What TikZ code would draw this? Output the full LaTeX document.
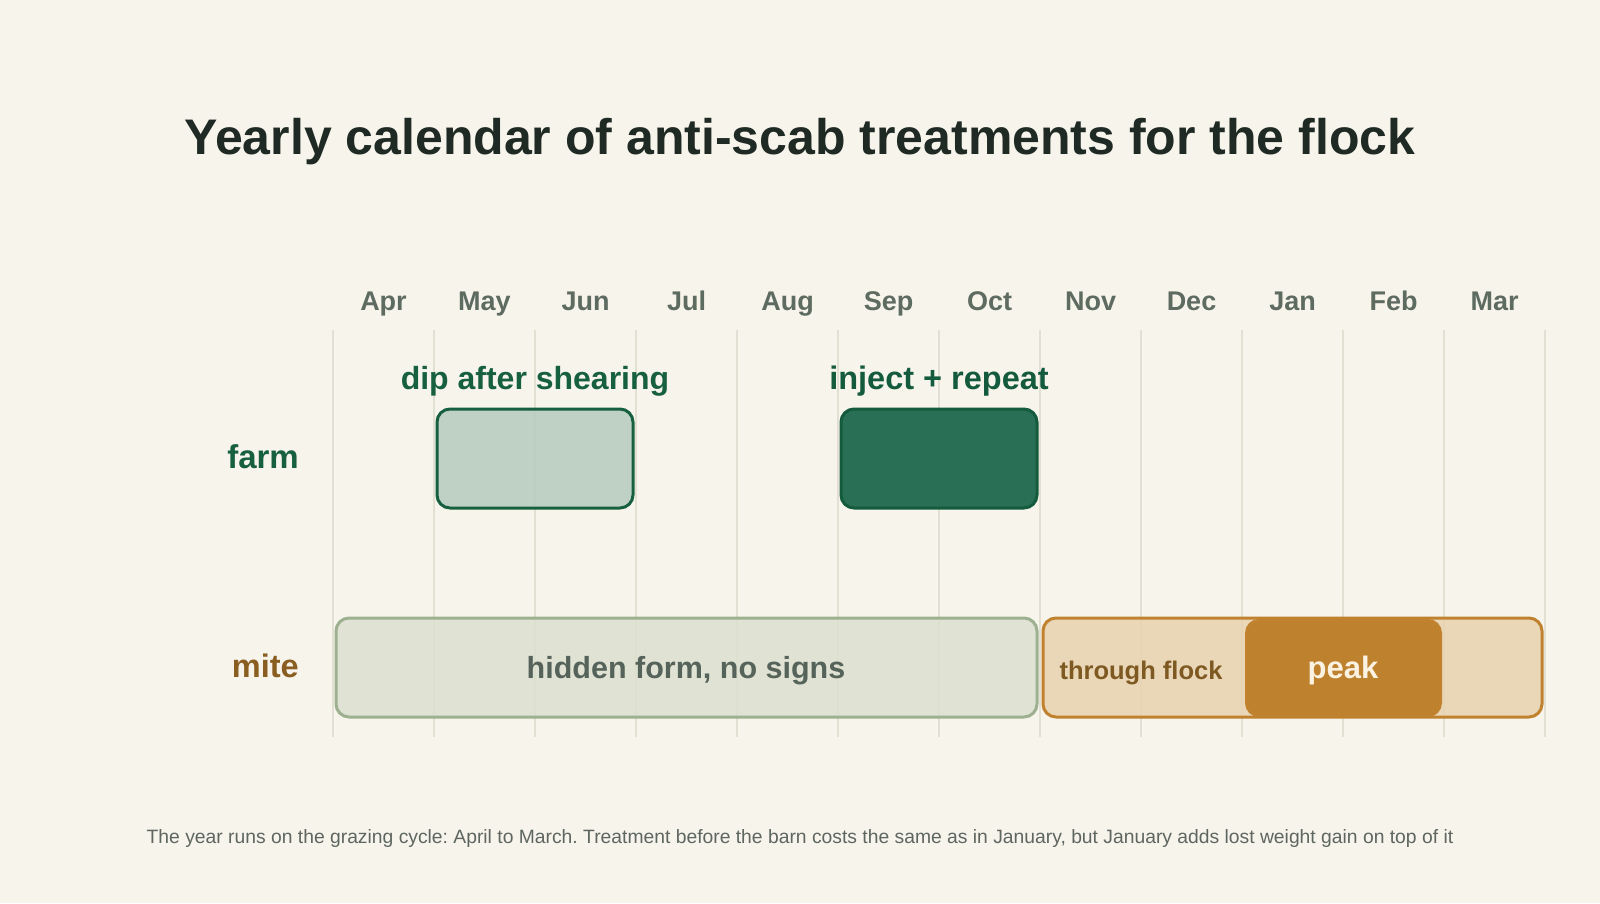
\documentclass[tikz,border=0pt]{standalone}
\usepackage{fontspec}
\setmainfont{Liberation Sans}
\frenchspacing
\definecolor{bg}{HTML}{F7F4EC}
\definecolor{gridc}{HTML}{E2DFD3}
\definecolor{titlec}{HTML}{1F2A24}
\definecolor{monthc}{HTML}{5E6B60}
\definecolor{greenc}{HTML}{17603F}
\definecolor{dipfill}{HTML}{B6CCBE}
\definecolor{injfill}{HTML}{236B51}
\definecolor{injline}{HTML}{145A3C}
\definecolor{hidfill}{HTML}{DDE0CF}
\definecolor{hidline}{HTML}{9DB08F}
\definecolor{hidtext}{HTML}{55635A}
\definecolor{thrfill}{HTML}{E7D3B0}
\definecolor{ochre}{HTML}{C0822E}
\definecolor{thrtext}{HTML}{7E5A22}
\definecolor{peakfill}{HTML}{BE822F}
\definecolor{peaktext}{HTML}{FBF2E2}
\definecolor{mitec}{HTML}{8A5E20}
\definecolor{footc}{HTML}{5E6660}
\tikzset{
  monthlbl/.style={font=\fontsize{27}{31}\selectfont\bfseries, text=monthc, anchor=base, inner sep=0pt},
  rowlbl/.style={anchor=base east, inner sep=0pt},
  bartext/.style={anchor=base, inner sep=0pt},
  bar/.style={rounded corners=13pt, line width=3pt},
  gridline/.style={draw=gridc, line width=2pt},
}
\newcommand{\fsz}[1]{\fontsize{#1}{#1}\selectfont}
\begin{document}
\begin{tikzpicture}[x=1pt,y=-1pt]
\useasboundingbox[fill=bg] (0,0) rectangle (1600,903);
% title
\node[font=\fsz{50}\bfseries, text=titlec, inner sep=0pt, anchor=base] (title) at (800,154) {Yearly calendar of anti-scab treatments for the flock};
% grid lines
\foreach \i in {0,...,12} {
  \draw[gridline] ({333+101*\i},330) -- ({333+101*\i},737);
}
% month labels
\foreach \m [count=\i from 0] in {Apr,May,Jun,Jul,Aug,Sep,Oct,Nov,Dec,Jan,Feb,Mar} {
  \node[monthlbl] (m\i) at ({383.5+101*\i},310) {\m};
}
% row labels
\node[rowlbl, font=\fsz{33}\bfseries, text=greenc] (farm) at (299,468) {farm};
\node[rowlbl, font=\fsz{32.5}\bfseries, text=mitec] (mite) at (299,677) {mite};
% farm bars
\draw[bar, draw=greenc, fill=dipfill, fill opacity=0.85] (437,409) rectangle (633,508);
\node[bartext, font=\fsz{32}\bfseries, text=greenc] (diplbl) at (535,389) {dip after shearing};
\draw[bar, draw=injline, fill=injfill, fill opacity=0.97] (841,409) rectangle (1037,508);
\node[bartext, font=\fsz{32.5}\bfseries, text=injline] (injlbl) at (939,389) {inject + repeat};
% mite bars
\draw[bar, draw=hidline, fill=hidfill, fill opacity=0.85] (336,618) rectangle (1037,717);
\node[bartext, font=\fsz{30.5}\bfseries, text=hidtext] (hidden) at (686,678) {hidden form, no signs};
\draw[bar, draw=ochre, fill=thrfill, fill opacity=0.85] (1043,618) rectangle (1542,717);
\draw[bar, draw=ochre, line width=2pt, fill=peakfill] (1246,620) rectangle (1441,716);
\node[bartext, font=\fsz{25.5}\bfseries, text=thrtext] (through) at (1141,679) {through flock};
\node[bartext, font=\fsz{31}\bfseries, text=peaktext] (peak) at (1343,678) {peak};
% footnote
\node[font=\fsz{19.3}, text=footc, inner sep=0pt, anchor=base] (foot) at (800,843) {The year runs on the grazing cycle: April to March. Treatment before the barn costs the same as in January, but January adds lost weight gain on top of it};
\end{tikzpicture}
\end{document}
